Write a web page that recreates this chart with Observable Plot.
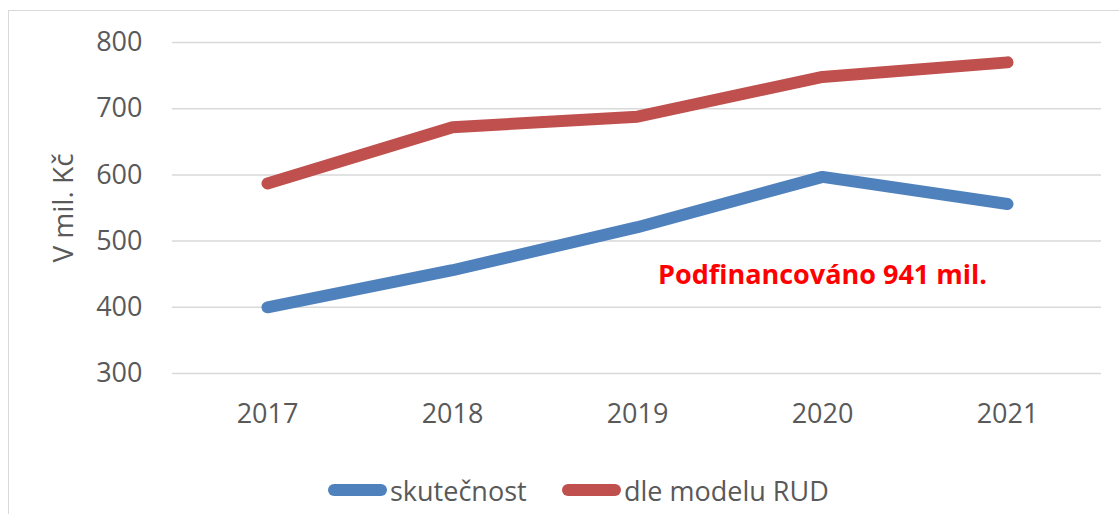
<!DOCTYPE html>
<html>
<head>
<meta charset="utf-8">
<script src="https://cdn.jsdelivr.net/npm/d3@7"></script>
<script src="https://cdn.jsdelivr.net/npm/@observablehq/plot@0.6"></script>
<style>
  html, body { margin: 0; padding: 0; background: #fff; }
  body { width: 1119px; height: 514px; position: relative; overflow: hidden; font-family: "Open Sans", sans-serif; }
  #frame { position: absolute; left: 8px; top: 10px; width: 1130px; height: 530px; border: 1.5px solid #D9D9D9; box-sizing: border-box; }
  #chart { position: absolute; left: 0; top: 0; }
  #legend { position: absolute; top: 470px; left: 0; width: 1119px; height: 40px; }
  .item { position: absolute; top: 0; height: 40px; display: flex; align-items: center; font-size: 27px; color: #595959; }
  .sw { width: 59px; height: 12px; border-radius: 6px; margin-right: 3px; }
</style>
</head>
<body>
<div id="frame"></div>
<div id="chart"></div>
<div id="legend"></div>
<script>
const years = ["2017", "2018", "2019", "2020", "2021"];
const skutecnost = [400, 456, 521, 597, 556];
const dleModelu = [587, 672, 688, 748, 770];
const seriesNames = ["skutečnost", "dle modelu RUD"];
const seriesColors = ["#4F81BD", "#C0504D"];
const yTicks = [300, 400, 500, 600, 700, 800];
const yTitle = "V mil. Kč";
const note = "Podfinancováno 941 mil.";
const noteAt = {year: "2020", value: 448};

const rows = [];
years.forEach((y, i) => {
  rows.push({year: y, value: skutecnost[i], series: seriesNames[0]});
  rows.push({year: y, value: dleModelu[i], series: seriesNames[1]});
});

const plot = Plot.plot({
  width: 1119,
  height: 460,
  marginLeft: 172,
  marginRight: 18,
  marginTop: 42,
  marginBottom: 87,
  style: {fontFamily: "Open Sans, sans-serif", background: "transparent"},
  x: {type: "point", domain: years, padding: 0.5},
  y: {domain: [300, 800]},
  color: {domain: seriesNames, range: seriesColors},
  marks: [
    Plot.ruleY(yTicks, {stroke: "#D9D9D9", strokeWidth: 1.5, strokeOpacity: 1}),
    Plot.axisY({ticks: yTicks, tickSize: 0, tickPadding: 30, label: null, fontSize: 27, fill: "#595959"}),
    Plot.axisX({tickSize: 0, tickPadding: 30, label: null, fontSize: 27, fill: "#595959"}),
    Plot.text([yTitle], {frameAnchor: "left", textAnchor: "middle", dx: -108, rotate: -90, fontSize: 28, fill: "#595959"}),
    Plot.line(rows, {x: "year", y: "value", z: "series", stroke: "series", strokeWidth: 12, strokeLinecap: "round", strokeLinejoin: "round"}),
    Plot.text([noteAt], {x: "year", y: "value", text: () => note, fill: "#FF0000", fontWeight: "bold", fontSize: 27})
  ]
});
document.getElementById("chart").appendChild(plot);

const legend = document.getElementById("legend");
const lefts = [328, 562];
seriesNames.forEach((n, i) => {
  const it = document.createElement("div");
  it.className = "item";
  it.style.left = lefts[i] + "px";
  const sw = document.createElement("div");
  sw.className = "sw";
  sw.style.background = seriesColors[i];
  const tx = document.createElement("span");
  tx.textContent = n;
  it.appendChild(sw);
  it.appendChild(tx);
  legend.appendChild(it);
});
</script>
</body>
</html>
